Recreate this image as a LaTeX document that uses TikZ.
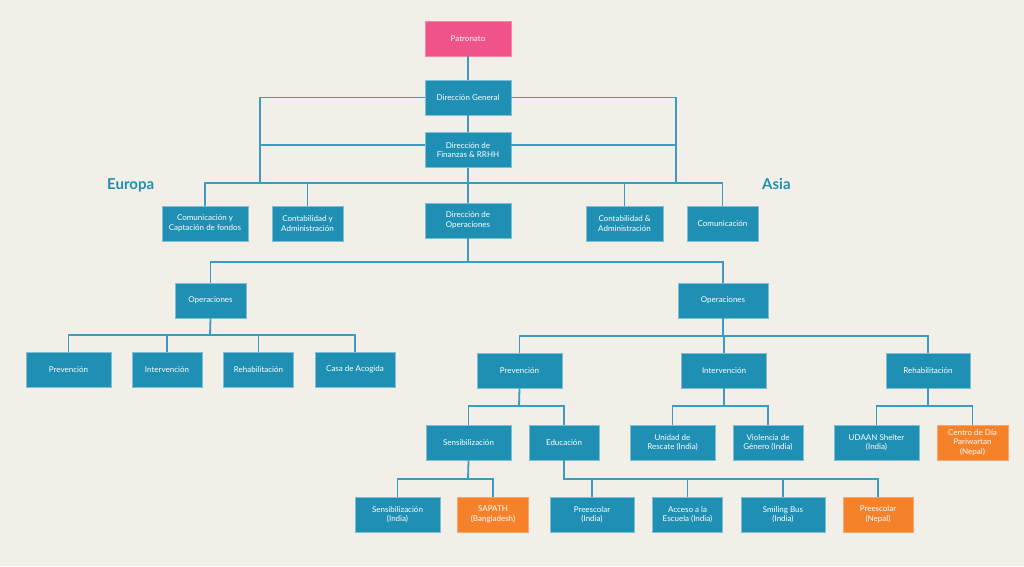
\documentclass[tikz,border=0pt]{standalone}
\usepackage{fontspec}
\setmainfont{Lato}
\definecolor{bg}{HTML}{F2EEE8}
\definecolor{teal}{HTML}{1F8FB3}
\definecolor{edge}{HTML}{7DBFD6}
\definecolor{ln}{HTML}{3B9CBF}
\definecolor{pink}{HTML}{F0528A}
\definecolor{orng}{HTML}{F5822B}
\begin{document}
\begin{tikzpicture}[x=1pt,y=-1pt,
  bx/.style={rectangle,fill=teal,draw=edge,line width=0.6pt,text=white,
    minimum height=35pt,inner sep=0pt,align=center,
    font=\fontsize{8}{9.6}\selectfont},
  pk/.style={bx,fill=pink,draw=pink!70!white},
  og/.style={bx,fill=orng,draw=orng!70!white},
  conn/.style={draw=ln,line width=1.8pt},
  region/.style={text=teal,font=\fontsize{15}{17}\selectfont\bfseries,inner sep=0pt}]
\fill[bg] (0,0) rectangle (1024,566);
\useasboundingbox (0,0) rectangle (1024,566);

% coordinates for buses
\coordinate (bus1) at (468,183);
\coordinate (lb) at (260,183);
\coordinate (rb) at (676,183);
\coordinate (bus2) at (468,262);
\coordinate (bl) at (210,335);
\coordinate (br) at (723,336);
\coordinate (bp) at (519,406);
\coordinate (bs) at (468,479);

% nodes
\node[pk,minimum width=86pt] (p) at (468,38.5) {Patronato};
\node[bx,minimum width=86pt] (dg) at (468,97.5) {Dirección General};
\node[bx,minimum width=86pt] (df) at (468,150) {Dirección de\\Finanzas \& RRHH};
\node[bx,minimum width=86pt] (e1) at (205,223.5) {Comunicación y\\Captación de fondos};
\node[bx,minimum width=71pt] (e2) at (307.5,223.5) {Contabilidad y\\Administración};
\node[bx,minimum width=86pt] (do) at (468,220.5) {Dirección de\\Operaciones};
\node[bx,minimum width=77pt] (a1) at (624.5,223.5) {Contabilidad \&\\Administración};
\node[bx,minimum width=71pt] (a2) at (722.5,223.5) {Comunicación};
\node[bx,minimum width=71pt] (opl) at (210.5,300.5) {Operaciones};
\node[bx,minimum width=90pt] (opr) at (723,300.5) {Operaciones};
\node[bx,minimum width=85pt] (l1) at (68.5,369.5) {Prevención};
\node[bx,minimum width=70pt] (l2) at (167,369.5) {Intervención};
\node[bx,minimum width=70pt] (l3) at (258.5,369.5) {Rehabilitación};
\node[bx,minimum width=80pt] (l4) at (355,369.5) {Casa de Acogida};
\node[bx,minimum width=85pt] (r1) at (519.5,370.5) {Prevención};
\node[bx,minimum width=85pt] (r2) at (724,370.5) {Intervención};
\node[bx,minimum width=84pt] (r3) at (928,370.5) {Rehabilitación};
\node[bx,minimum width=85pt] (s1) at (468.5,442.5) {Sensibilización};
\node[bx,minimum width=70pt] (s2) at (564,442.5) {Educación};
\node[bx,minimum width=85pt] (s3) at (672.5,442.5) {Unidad de\\Rescate (India)};
\node[bx,minimum width=70pt] (s4) at (768,442.5) {Violencia de\\Género (India)};
\node[bx,minimum width=85pt] (s5) at (876.5,442.5) {UDAAN Shelter\\(India)};
\node[og,minimum width=71pt] (s6) at (972.5,442.5) {Centro de Día\\Pariwartan\\(Nepal)};
\node[bx,minimum width=85pt] (b1) at (397.5,514.5) {Sensibilización\\(India)};
\node[og,minimum width=71pt] (b2) at (493,514.5) {SAPATH\\(Bangladesh)};
\node[bx,minimum width=84pt] (b3) at (592,514.5) {Preescolar\\(India)};
\node[bx,minimum width=70pt] (b4) at (687.5,514.5) {Acceso a la\\Escuela (India)};
\node[bx,minimum width=84pt] (b5) at (783,514.5) {Smiling Bus\\(India)};
\node[og,minimum width=70pt] (b6) at (878,514.5) {Preescolar\\(Nepal)};

\node[region,anchor=base west] (eu) at (107,189) {Europa};
\node[region,anchor=base west] (as) at (762,189) {Asia};

% connectors
\draw[conn] (p) -- (dg);
\draw[conn] (dg) -- (df);
\draw[conn] (df) -- (do);
\draw[conn] (dg.west) -| (lb);
\draw[conn] (dg.east) -| (rb);
\draw[conn] ([yshift=5pt]df.west) -- ([yshift=5pt]df.west -| lb);
\draw[conn] ([yshift=5pt]df.east) -- ([yshift=5pt]df.east -| rb);
\draw[conn] (e1.north) -- (e1.north |- bus1) -- (a2.north |- bus1) -- (a2.north);
\draw[conn] (e2.north) -- (e2.north |- bus1);
\draw[conn] (a1.north) -- (a1.north |- bus1);
\draw[conn] (do.south) -- (bus2);
\draw[conn] (opl.north) -- (opl.north |- bus2) -- (opr.north |- bus2) -- (opr.north);
\draw[conn] (opl.south) -- (bl);
\draw[conn] (l1.north) -- (l1.north |- bl) -- (l4.north |- bl) -- (l4.north);
\draw[conn] (l2.north) -- (l2.north |- bl);
\draw[conn] (l3.north) -- (l3.north |- bl);
\draw[conn] (opr.south) -- (br);
\draw[conn] (r1.north) -- (r1.north |- br) -- (r3.north |- br) -- (r3.north);
\draw[conn] (r2.north) -- (r2.north |- br);
\draw[conn] (r1.south) -- (bp);
\draw[conn] (s1.north) -- (s1.north |- bp) -- (s2.north |- bp) -- (s2.north);
\draw[conn] (s1.south) -- (bs);
\draw[conn] (b1.north) -- (b1.north |- bs) -- (b2.north |- bs) -- (b2.north);
\draw[conn] (s2.south) -- (s2.south |- bs) -- (b6.north |- bs) -- (b6.north);
\draw[conn] (b3.north) -- (b3.north |- bs);
\draw[conn] (b4.north) -- (b4.north |- bs);
\draw[conn] (b5.north) -- (b5.north |- bs);
\draw[conn] (r2.south) -- (r2.south |- bp);
\draw[conn] (s3.north) -- (s3.north |- bp) -- (s4.north |- bp) -- (s4.north);
\draw[conn] (r3.south) -- (r3.south |- bp);
\draw[conn] (s5.north) -- (s5.north |- bp) -- (s6.north |- bp) -- (s6.north);
\end{tikzpicture}
\end{document}
